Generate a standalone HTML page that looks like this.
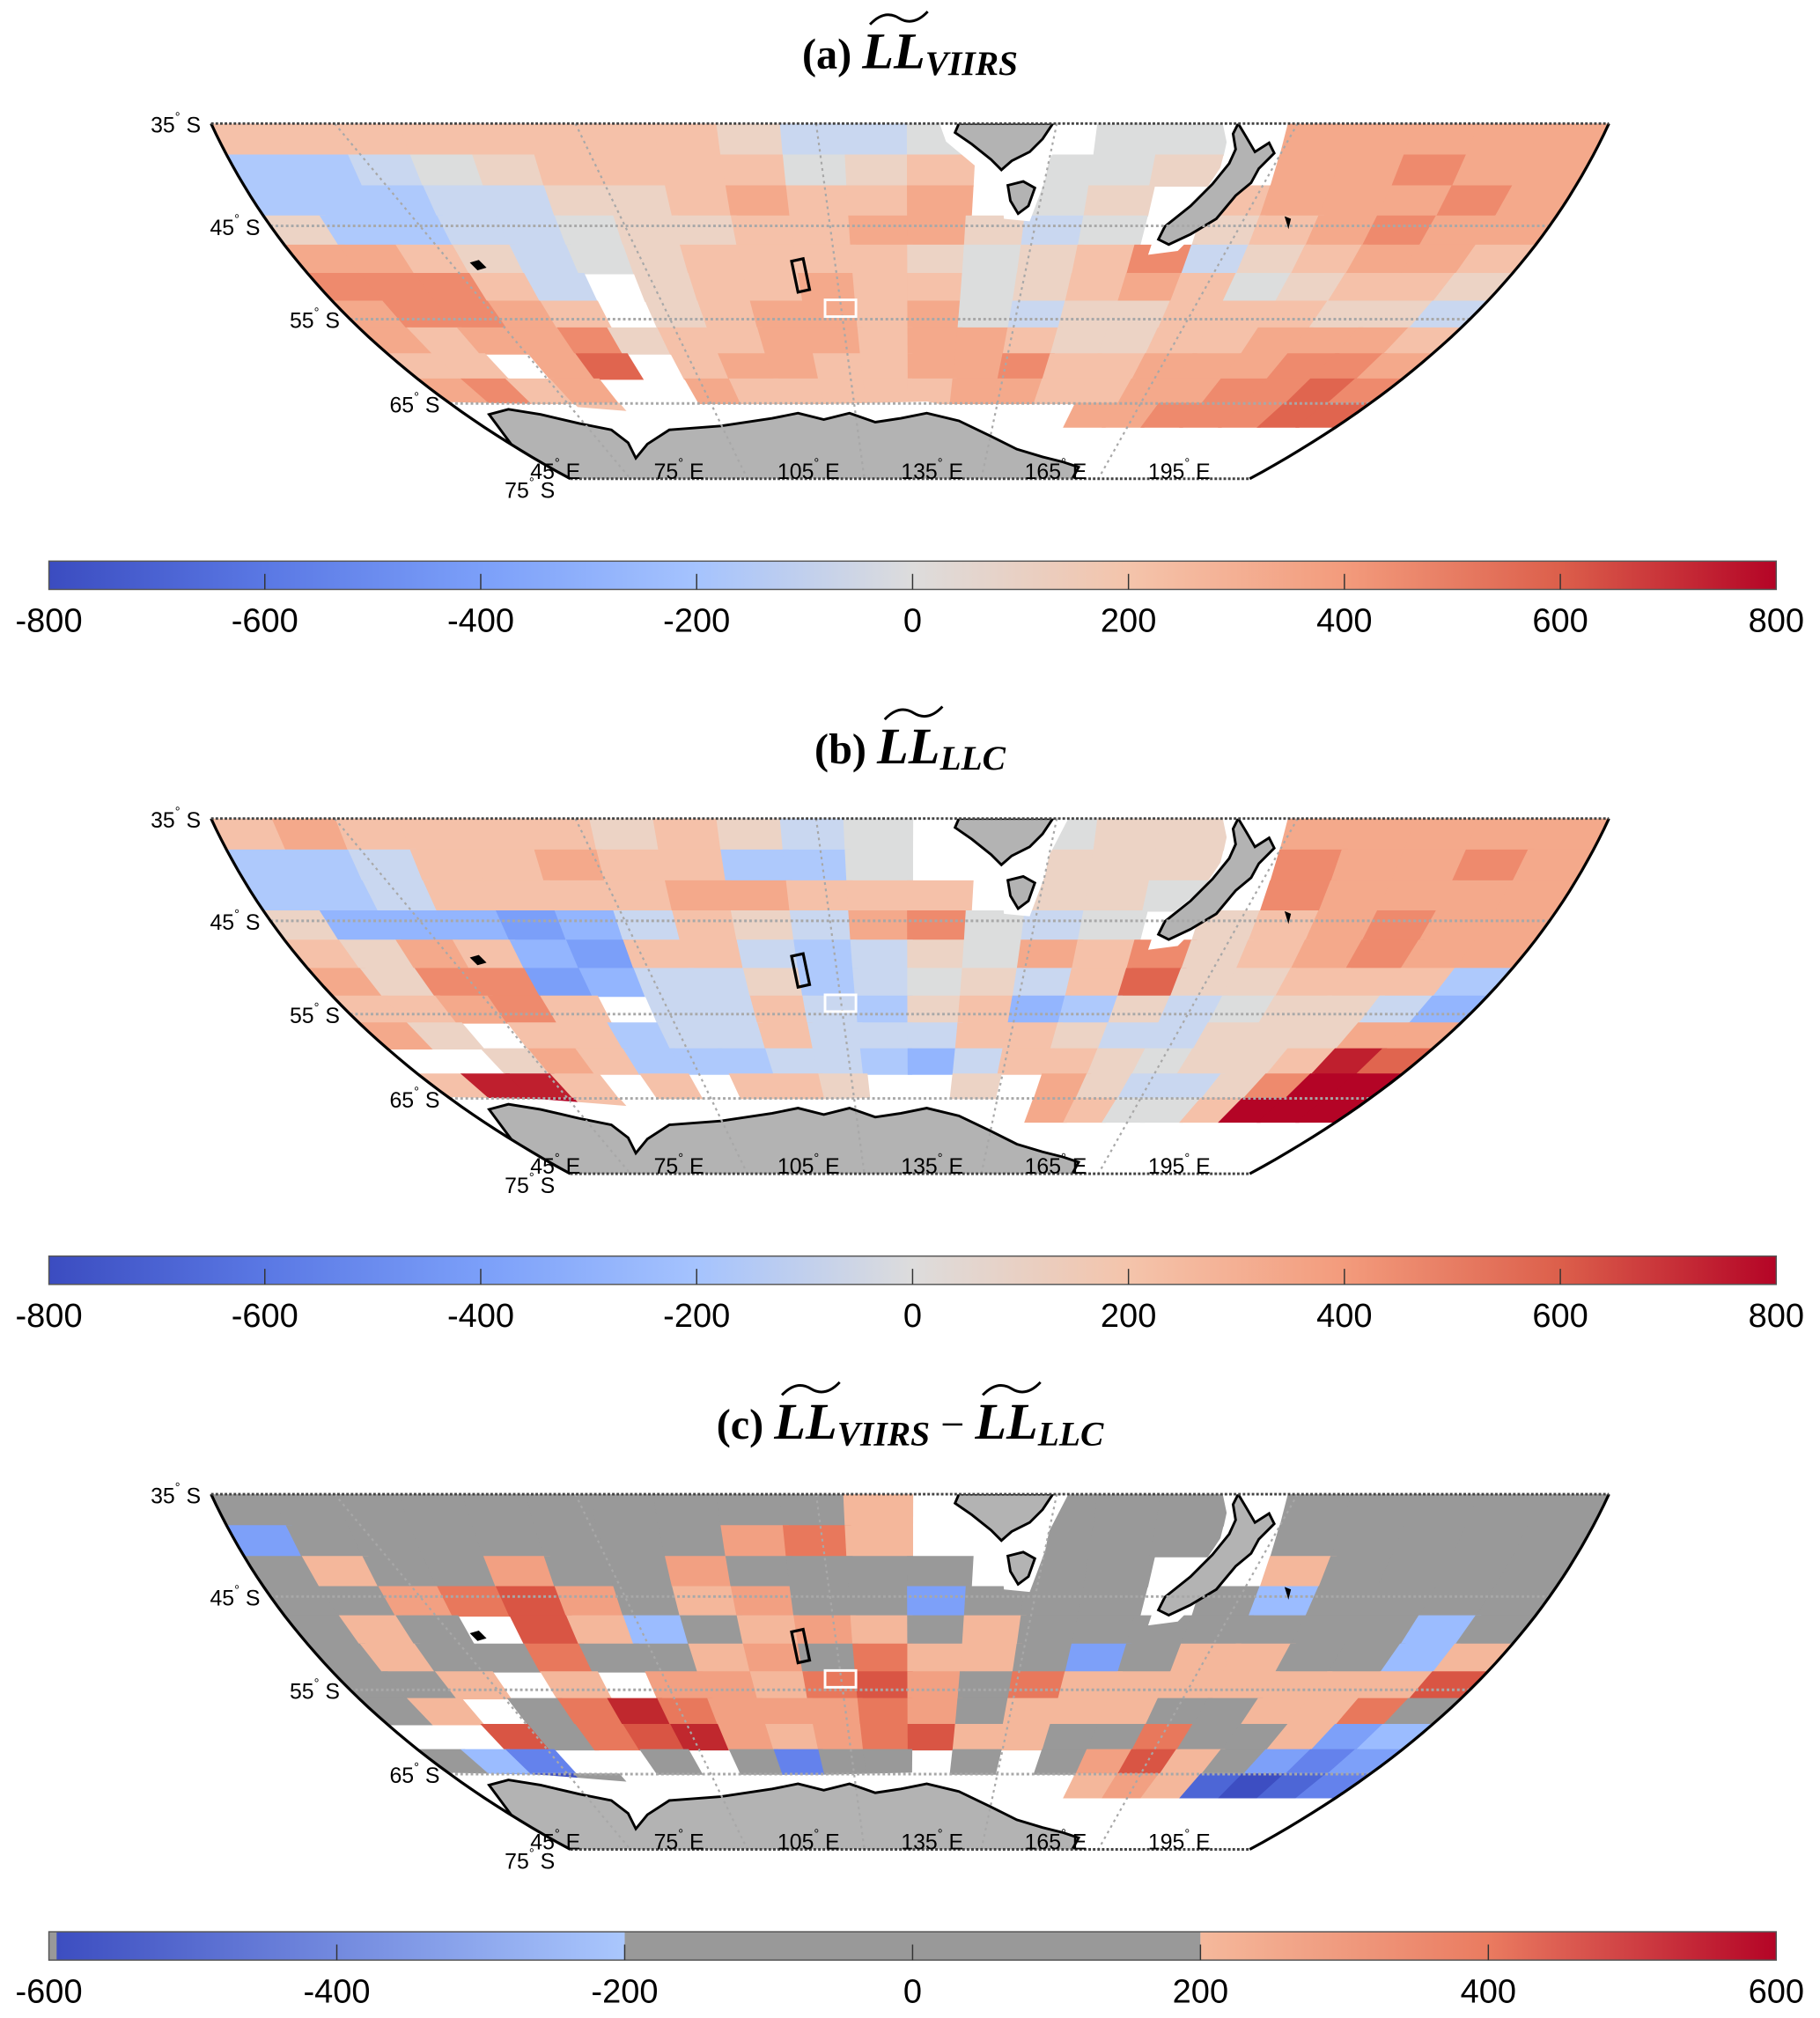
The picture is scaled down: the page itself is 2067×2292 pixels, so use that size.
<!DOCTYPE html>
<html><head><meta charset="utf-8"><style>
html,body{margin:0;padding:0;background:#fff;}
svg{display:block;}
</style></head><body>
<svg id="fig" xmlns="http://www.w3.org/2000/svg" width="2067" height="2292" viewBox="0 0 1414 1568" preserveAspectRatio="none">
<rect x="0" y="0" width="1414" height="1568" fill="#fff"/>
<defs>
<linearGradient id="cwgrad" x1="0" x2="1" y1="0" y2="0">
<stop offset="0" stop-color="#3b4cc0"/><stop offset="0.125" stop-color="#5a78e4"/><stop offset="0.25" stop-color="#7b9ff9"/><stop offset="0.375" stop-color="#a5c3fe"/><stop offset="0.5" stop-color="#dddcdc"/><stop offset="0.625" stop-color="#f4c4ab"/><stop offset="0.75" stop-color="#f39b7c"/><stop offset="0.875" stop-color="#dc5f4b"/><stop offset="1" stop-color="#b40426"/>
</linearGradient>
<linearGradient id="bluegrad" x1="0" x2="1"><stop offset="0" stop-color="#3b4cc0"/><stop offset="1" stop-color="#aac7fd"/></linearGradient>
<linearGradient id="redgrad" x1="0" x2="1"><stop offset="0" stop-color="#f5b99c"/><stop offset="0.5" stop-color="#ea7b60"/><stop offset="1" stop-color="#b40426"/></linearGradient>
</defs>
<g id="panels"></g>
</svg>
<script>
// ---- data (grid cells: 22 lon columns x 11 lat rows, 3 deg each from 35S) ----
// codes: '.' = no data; A=-800 ... I=0 ... Q=800 (100 per step)
const lonMin = 29.6;
const lonMax = 203.8;
const latRowsStart = 35;
const latStep = 3;
const rowsA = [
"KKKKKKKKJHHI..II.LLLLL",
"GGHIJKKKKIJK.IIJ.LLMLL",
"GGGHHJJKLKKL.IJ.KLLLML",
"JGGHHIJJKKLLJHI.JKLMLL",
"LLKJHIJKKKKJIJKMHJKLLK",
"MMMKH.JKKLKKIJKLKIJKKJ",
"LMMLK.JKLLKLIHJJKKKJJH",
"LKLLMJKKLLKLLKJJKKLLLK",
"KK.LN.KLLKKLLMKKLLLMML",
"LMKL..LKKKKKLLKKLLMMNM",
"...K...........LLMMMNN"];
const rowsB = [
"KLKKKKJKJHI..IJJ.LLLLL",
"GGHKKLKKGGI..JJJ.MLLML",
"GGHKKKKLLKKK.JJI.MLLLL",
"JFFFEFHKJHLMIHI.JKLMLL",
"KJLKFEKKHGHJILKMJKLMLL",
"LJMMEFHHJGHIJHKNJJKKKG",
"KKLMK.HHKHGJKFGJHIJJHF",
"LJ.KKGHHKHHHKKJHHJJJLL",
"..JLKGGGHHGFHKKJIJJKPN",
"KPPK.K.KKJ..J.LJHHJMQQ",
"..QK..........LKIIKQQQ"];
const rowsC = [
"IIIIIIIIIIK..III.IIIII",
"FIIIIIIILMK..III.IIIII",
"IKIILIILIIII.II..KIIII",
"IILMNLIKLIIFIII.IGIIII",
"IKI.NKGIKLKIKIIIIIIIGI",
"IKIIMIIKLIMKKIFIKKIIGK",
"IIK.K.LLKMNLIMKKKKKKKN",
"IK.IMOMLLLMLIKKKIIKKMI",
"..NIMNOLKLMNKKIIMIIKFG",
"IGE..I.IEII.I.ILNKIFEF",
".FCI...........KLKDCDE"];
const tickLabelsAB = ["-800","-600","-400","-200","0","200","400","600","800"];
const tickLabelsC = ["-600","-400","-200","0","200","400","600"];
const latLabels = [35,45,55,65,75];
const lonLabels = [45,75,105,135,165,195];

const colorsAB = {C:"#5572df",D:"#6788ee",E:"#7b9ff9",F:"#93b5fe",G:"#aec9fc",H:"#c9d7f0",I:"#dcdddd",J:"#ecd3c5",K:"#f5c1a9",L:"#f4a98b",M:"#ee8a6d",N:"#e0654f",O:"#cc3d37",P:"#bf1f2e",Q:"#b40426"};
const colorsC = {C:"#3d4ec2",D:"#4d66d6",E:"#6482ec",F:"#7da0f9",G:"#9bbcff",H:"#999999",I:"#999999",J:"#999999",K:"#f4b79b",L:"#f2a082",M:"#e8785c",N:"#d95544",O:"#c0282e",P:"#b40426",Q:"#b40426"};

const NS="http://www.w3.org/2000/svg";
function mk(tag, attrs, parent){const e=document.createElementNS(NS,tag);for(const k in attrs)e.setAttribute(k,attrs[k]);if(parent)parent.appendChild(e);return e;}
function py(lat){const t=lat-35;return 96+8.3*t-0.035*t*t;}
function hw(lat){const t=lat-35;return 543-3.825*t-0.0788*t*t;}
const lonC=(lonMin+lonMax)/2, lonH=(lonMax-lonMin)/2;
function px(lon,lat){return 707+(lon-lonC)/lonH*hw(lat);}

const panels=[
 {off:0, rows:rowsA, cols:colorsAB, label:"(a) ", sub:"VIIRS", name:"panel-a", diff:false},
 {off:540, rows:rowsB, cols:colorsAB, label:"(b) ", sub:"LLC", name:"panel-b", diff:false},
 {off:1065, rows:rowsC, cols:colorsC, label:"(c) ", sub:"VIIRS", sub2:"LLC", name:"panel-c", diff:true}
];
const root=document.getElementById('panels');
const tildeTargets=[];
panels.forEach((p,pi)=>{
 const g=mk('g',{transform:`translate(0,${p.off})`},root);
 
 
 // title
 const t=mk('text',{x:707,y:53,'text-anchor':'middle','font-family':'Liberation Serif, serif','font-size':33,'font-weight':'bold'},g);
 
 
 const s1=mk('tspan',{},t); s1.textContent=p.label;
 const s2=mk('tspan',{'font-style':'italic','font-size':40},t); s2.textContent="LL";
 const s3=mk('tspan',{'font-style':'italic','font-size':27,dy:5},t); s3.textContent=p.sub;
 tildeTargets.push({t:t,idx:p.label.length,off:p.off});
 if(p.diff){
  const s4=mk('tspan',{'font-size':33,dy:-5,'font-weight':'normal'},t); s4.textContent=" \u2212 ";
  const s5=mk('tspan',{'font-style':'italic','font-size':40},t); s5.textContent="LL";
  const s6=mk('tspan',{'font-style':'italic','font-size':27,dy:5},t); s6.textContent=p.sub2;
  tildeTargets.push({t:t,idx:p.label.length+2+p.sub.length+3,off:p.off});
 }
 // clip
 const cid='clip'+pi;
 const cp=mk('clipPath',{id:cid},g);
 let d='';
 for(let la=35;la<=75;la+=1){d+=(la==35?'M':'L')+px(lonMin,la).toFixed(1)+','+py(la).toFixed(1);}
 for(let la=75;la>=35;la-=1){d+='L'+px(lonMax,la).toFixed(1)+','+py(la).toFixed(1);}
 d+='Z';
 mk('path',{d:d},cp);
 const mg=mk('g',{'clip-path':`url(#${cid})`},g);
 
 
 const dl=(lonMax-lonMin)/22;
 p.rows.forEach((row,ri)=>{
  const la0=latRowsStart+ri*latStep, la1=la0+latStep;
  for(let k=0;k<row.length;k++){
   const c=row[k]; if(c=='.')continue;
   const l0=lonMin+k*dl-0.4, l1=lonMin+(k+1)*dl+0.4;
   const pts=[[px(l0,la0),py(la0)-0.5],[px(l1,la0),py(la0)-0.5],[px(l1,la1),py(la1)+0.5],[px(l0,la1),py(la1)+0.5]];
   const cell=mk('polygon',{points:pts.map(q=>q[0].toFixed(1)+','+q[1].toFixed(1)).join(' '),fill:p.cols[c]},mg);
   
   
  }
 });
 // land halos and land
 const halo='#fff';
 mk('path',{d:"M730,96 L735,110 L765,135 L778,150 L780,170 L800,172 L812,140 L815,125 L830,96 Z",fill:halo},mg);
 mk('path',{d:"M950,96 L955,120 L935,150 L898,180 L892,198 L915,195 L945,165 L975,140 L995,118 L992,100 L980,96 Z",fill:halo},mg);
 mk('path',{d:"M330,312 L420,314 L470,318 L520,322 L560,318 L640,314 L720,312 L760,320 L810,340 L860,360 L870,380 L300,380 Z",fill:halo},mg);
 const land='#b3b3b3';
 const au=mk('path',{d:"M745,96 L742,103 L755,112 L770,124 L778,132 L786,125 L800,118 L810,108 L818,96 Z",fill:land,stroke:'#000','stroke-width':2},mg);
 
 
 const tas=mk('path',{d:"M783,144 L795,141 L804,146 L799,160 L791,166 L785,156 Z",fill:land,stroke:'#000','stroke-width':2},mg);
 
 
 const nz=mk('path',{d:"M962,96 L968,106 L975,118 L986,111 L990,119 L978,131 L972,142 L960,152 L945,170 L925,182 L908,190 L900,186 L905,176 L925,160 L942,143 L955,127 L960,116 L958,104 Z",fill:land,stroke:'#000','stroke-width':2},mg);
 
 
 const ant=mk('path',{d:"M380,322 L395,318 L420,322 L450,329 L475,334 L488,344 L494,356 L503,345 L520,334 L560,331 L600,325 L620,321 L640,326 L660,321 L680,328 L700,325 L720,321 L745,327 L770,339 L790,349 L810,355 L826,359 L838,363 L832,374 L420,376 Z",fill:land,stroke:'#000','stroke-width':2},mg);
 
 
 mk('path',{d:"M365,204 L372,202 L378,208 L371,210 Z",fill:'#000'},mg);
 mk('path',{d:"M998,168 L1003,170 L1001,178 Z",fill:'#000'},mg);
 // grid lines
 [45,55,65].forEach(la=>{mk('line',{x1:px(lonMin,la),x2:px(lonMax,la),y1:py(la),y2:py(la),stroke:'#a8a8a8','stroke-width':2,'stroke-dasharray':'2,2'},mg);});
 [45,75,105,135,165].forEach(lo=>{mk('line',{x1:px(lo,35),y1:py(35),x2:px(lo,75),y2:py(75),stroke:'#a8a8a8','stroke-width':1.5,'stroke-dasharray':'2,3'},mg);});
 // boxes
 mk('polygon',{points:"615,203 624,201 629,225 620,227",fill:'none',stroke:'#000','stroke-width':2.2},g);
 mk('rect',{x:641,y:233,width:24,height:13,fill:'none',stroke:'#fff','stroke-width':2},g);
 // border
 let dL='',dR='';
 for(let la=35;la<=75;la++){dL+=(la==35?'M':'L')+px(lonMin,la).toFixed(1)+','+py(la).toFixed(1);dR+=(la==35?'M':'L')+px(lonMax,la).toFixed(1)+','+py(la).toFixed(1);}
 mk('path',{d:dL,fill:'none',stroke:'#000','stroke-width':2.2},g);
 mk('path',{d:dR,fill:'none',stroke:'#000','stroke-width':2.2},g);
 mk('line',{x1:px(lonMin,35),x2:px(lonMax,35),y1:py(35),y2:py(35),stroke:'#444','stroke-width':2,'stroke-dasharray':'2,1.5'},g);
 mk('line',{x1:px(lonMin,75),x2:px(lonMax,75),y1:py(75),y2:py(75),stroke:'#444','stroke-width':2,'stroke-dasharray':'2,1.5'},g);
 // lat labels
 latLabels.forEach(la=>{
  const x=px(lonMin,la)-8+(la==75?-4:0), y=py(la)+7+(la==75?8:0);
  const tx=mk('text',{x:x,y:y,'text-anchor':'end','font-family':'Liberation Sans, sans-serif','font-size':17},g);
  
  
  const a=mk('tspan',{},tx);a.textContent=String(la);
  const b=mk('tspan',{dy:-9,'font-size':10},tx);b.textContent="\u00b0";
  const c=mk('tspan',{dy:9},tx);c.textContent=" S";
 });
 lonLabels.forEach((lo,i)=>{
  const x=412+i*96, y=372;
  const tx=mk('text',{x:x,y:y,'font-family':'Liberation Sans, sans-serif','font-size':17},g);
  
  
  const a=mk('tspan',{},tx);a.textContent=String(lo);
  const b=mk('tspan',{dy:-9,'font-size':10},tx);b.textContent="\u00b0";
  const c=mk('tspan',{dy:9},tx);c.textContent=" E";
 });
 // colorbar
 const cb=mk('g',{},g);
 
 
 const X0=38,X1=1380,Y0=436,H=22;
 if(!p.diff){
  mk('rect',{x:X0,y:Y0,width:X1-X0,height:H,fill:'url(#cwgrad)',stroke:'#555','stroke-width':1},cb);
 } else {
  const w=(X1-X0)/3;
  mk('rect',{x:X0,y:Y0,width:w,height:H,fill:'url(#bluegrad)'},cb);
  mk('rect',{x:X0+w,y:Y0,width:w,height:H,fill:'#999'},cb);
  mk('rect',{x:X0+2*w,y:Y0,width:w,height:H,fill:'url(#redgrad)'},cb);
  mk('rect',{x:X0,y:Y0,width:6,height:H,fill:'#999'},cb);
  mk('rect',{x:X0,y:Y0,width:X1-X0,height:H,fill:'none',stroke:'#555','stroke-width':1},cb);
 }
 const labs=p.diff?tickLabelsC:tickLabelsAB;
 labs.forEach((lb,i)=>{
  const x=X0+(X1-X0)*i/(labs.length-1);
  if(i>0&&i<labs.length-1)mk('line',{x1:x,x2:x,y1:Y0+H*0.45,y2:Y0+H,stroke:'#333','stroke-width':1},cb);
  const tx=mk('text',{x:x,y:491,'text-anchor':'middle','font-family':'Liberation Sans, sans-serif','font-size':26},cb);
  
  
  tx.textContent=lb;
 });
});
// tildes over LL
tildeTargets.forEach(tt=>{
 let x0=652,x1=718;
 try{const a=tt.t.getExtentOfChar(tt.idx), b=tt.t.getExtentOfChar(tt.idx+1);x0=a.x+6;x1=b.x+b.width+2;}catch(e){}
 const o=tt.off, m=(x0+x1)/2, q=(x1-x0)/4;
 const tg=mk('path',{d:`M${x0},${o+19} Q${x0+q},${o+7} ${m},${o+14} Q${m+q},${o+21} ${x1},${o+9}`,fill:'none',stroke:'#000','stroke-width':2},root);
 
 
});
</script>
</body></html>
